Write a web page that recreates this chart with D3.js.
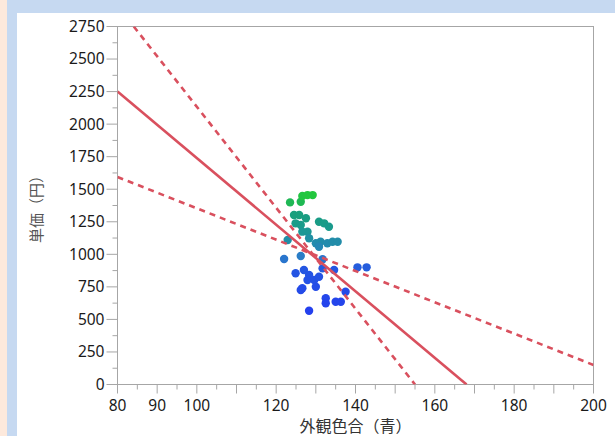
<!DOCTYPE html>
<html><head><meta charset="utf-8">
<script src="https://cdn.jsdelivr.net/npm/d3@7/dist/d3.min.js"></script>
<style>
html,body{margin:0;padding:0;background:#c6d9f1;}
svg{display:block;}
</style></head>
<body>
<svg id="c" width="615" height="436"></svg>
<script>
// ---- data ----
const xValues = [123.5,126.2,126.6,127.9,129.2,
  124.5,125.8,124.9,127.5,126.2,130.8,132.1,133.3,127.9,126.6,122.9,128.3,130.0,131.2,132.9,134.2,135.5,130.8,
  122.0,126.2,131.7,
  124.9,127.0,128.3,127.9,129.6,130.8,131.7,134.6,140.5,142.8,130.0,126.6,126.2,132.5,132.5,135.0,136.3,137.5,128.3];
const yValues = [1399,1404,1448,1455,1455,
  1302,1302,1238,1277,1225,1250,1238,1212,1174,1174,1110,1123,1085,1097,1085,1097,1097,1058,
  964,987,962,
  854,879,841,803,803,828,892,879,900,900,751,739,726,662,624,636,636,713,567];
const solidLine = [[80,2250],[168,0]];
const dashedSteep = [[84.1,2750],[155,0]];
const dashedShallow = [[80,1594],[200,150]];
const xTickLabels = [80,90,100,120,140,160,180,200];
const yTickLabels = [0,250,500,750,1000,1250,1500,1750,2000,2250,2500,2750];
const xLabel = "外観色合（青）";
const yLabel = "単価（円）";

// ---- drawing ----
const svg = d3.select("#c");
svg.append("rect").attr("x",0).attr("y",0).attr("width",7).attr("height",436).attr("fill","#fde9dc");
svg.append("rect").attr("x",17).attr("y",13).attr("width",598).attr("height",423).attr("fill","#ffffff");

const x = d3.scaleLinear().domain([80,200]).range([117.5,593.5]);
const y = d3.scaleLinear().domain([0,2750]).range([384.5,26.5]);
const font = "'Noto Sans', 'Noto Sans CJK JP', sans-serif";
const axisColor = "#a6a6a6";

svg.append("defs").append("clipPath").attr("id","clip")
  .append("rect").attr("x",x(80)).attr("y",y(2750)).attr("width",x(200)-x(80)).attr("height",y(0)-y(2750));

// frame
svg.append("rect").attr("x",x(80)).attr("y",y(2750)).attr("width",x(200)-x(80)).attr("height",y(0)-y(2750))
  .attr("fill","none").attr("stroke",axisColor).attr("stroke-width",1);

// y ticks
const yMinor = d3.range(125,2750,250);
svg.append("g").selectAll("line.ymaj").data(yTickLabels).join("line")
  .attr("x1",x(80)-11).attr("x2",x(80)).attr("y1",d=>y(d)).attr("y2",d=>y(d)).attr("stroke",axisColor);
svg.append("g").selectAll("line.ymin").data(yMinor).join("line")
  .attr("x1",x(80)-5).attr("x2",x(80)).attr("y1",d=>y(d)).attr("y2",d=>y(d)).attr("stroke",axisColor);
svg.append("g").selectAll("text").data(yTickLabels).join("text")
  .attr("x",x(80)-13).attr("y",d=>y(d)).attr("dy","0.35em").attr("text-anchor","end")
  .attr("font-family",font).attr("font-size",15.5).attr("fill","#1a1a1a").text(d=>d);

// x ticks
const xMajor = d3.range(80,201,10);
const xMinor = d3.range(85,200,10);
svg.append("g").selectAll("line").data(xMajor).join("line")
  .attr("x1",d=>x(d)).attr("x2",d=>x(d)).attr("y1",y(0)).attr("y2",y(0)+9).attr("stroke",axisColor);
svg.append("g").selectAll("line").data(xMinor).join("line")
  .attr("x1",d=>x(d)).attr("x2",d=>x(d)).attr("y1",y(0)).attr("y2",y(0)+5).attr("stroke",axisColor);
svg.append("g").selectAll("text").data(xTickLabels).join("text")
  .attr("x",d=>x(d)).attr("y",y(0)+26).attr("text-anchor","middle")
  .attr("font-family",font).attr("font-size",15.5).attr("fill","#1a1a1a").text(d=>d);

// axis labels
svg.append("text").attr("x",(x(80)+x(200))/2).attr("y",432).attr("text-anchor","middle")
  .attr("font-family",font).attr("font-size",16).attr("fill","#333").text(xLabel);
svg.append("text").attr("transform",`translate(42,${(y(0)+y(2750))/2}) rotate(-90)`).attr("text-anchor","middle")
  .attr("font-family",font).attr("font-size",15).attr("fill","#555").text(yLabel);

// points
const color = d3.scaleLinear().domain([560,880,990,1200,1300,1460])
  .range(["#2440ee","#2456e2","#2a7ec6","#1a9a8e","#1a9e7e","#22c83c"]);
const pts = xValues.map((v,i)=>({x:v,y:yValues[i]}));
const plot = svg.append("g").attr("clip-path","url(#clip)");
plot.selectAll("circle").data(pts).join("circle")
  .attr("cx",d=>x(d.x)).attr("cy",d=>y(d.y)).attr("r",4.2).attr("fill",d=>color(d.y));

// lines
const line = d3.line().x(d=>x(d[0])).y(d=>y(d[1]));
const red = "#d9505e";
plot.append("path").attr("d",line(dashedSteep)).attr("fill","none").attr("stroke",red)
  .attr("stroke-width",2.6).attr("stroke-dasharray","6,5");
plot.append("path").attr("d",line(dashedShallow)).attr("fill","none").attr("stroke",red)
  .attr("stroke-width",2.6).attr("stroke-dasharray","6,5");
plot.append("path").attr("d",line(solidLine)).attr("fill","none").attr("stroke",red)
  .attr("stroke-width",2.6);
</script>
</body></html>
